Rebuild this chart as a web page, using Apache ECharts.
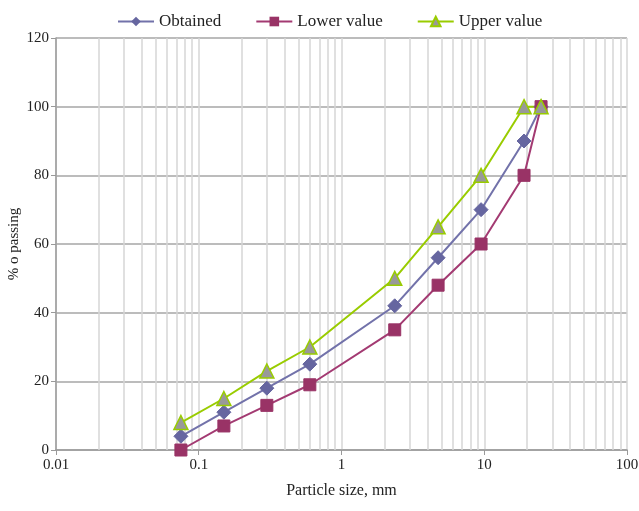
<!DOCTYPE html>
<html>
<head>
<meta charset="utf-8">
<script src="https://cdn.jsdelivr.net/npm/echarts@6/dist/echarts.min.js"></script>
<style>html,body{margin:0;padding:0;background:#fff}#c{width:639px;height:511px}</style>
</head>
<body>
<div id="c"></div>
<script>
var sizes = [0.075, 0.15, 0.3, 0.6, 2.36, 4.75, 9.5, 19, 25];
var obtained = [4, 11, 18, 25, 42, 56, 70, 90, 100];
var lowerValue = [0, 7, 13, 19, 35, 48, 60, 80, 100];
var upperValue = [8, 15, 23, 30, 50, 65, 80, 100, 100];
var xTickLabels = ['0.01', '0.1', '1', '10', '100'];
var yTicks = [0, 20, 40, 60, 80, 100, 120];

function pairs(vals) { return sizes.map(function (s, i) { return [s, vals[i]]; }); }

var minorLines = [];
[0.01, 0.1, 1, 10].forEach(function (d) {
  for (var k = 2; k <= 9; k++) minorLines.push({ xAxis: +(d * k).toPrecision(3) });
});

var font = 'Liberation Serif';
var chart = echarts.init(document.getElementById('c'));
chart.setOption({
  backgroundColor: '#fff',
  animation: false,
  textStyle: { fontFamily: font },
  legend: {
    top: 8,
    left: 112,
    itemWidth: 36,
    itemHeight: 12,
    itemGap: 34,
    textStyle: { fontFamily: font, fontSize: 17, color: '#222' },
    data: ['Obtained', 'Lower value', 'Upper value']
  },
  grid: { left: 56, right: 12, top: 38, bottom: 61, containLabel: false, outerBoundsMode: 'none' },
  xAxis: {
    type: 'log',
    logBase: 10,
    min: 0.01,
    max: 100,
    name: 'Particle size, mm',
    nameLocation: 'middle',
    nameGap: 33,
    nameMoveOverlap: false,
    nameTextStyle: { fontFamily: font, fontSize: 16, color: '#222' },
    axisLine: { lineStyle: { color: '#9a9a9a', width: 1.5 } },
    axisTick: { show: true, inside: false, length: 5, lineStyle: { color: '#9a9a9a' } },
    axisLabel: {
      fontFamily: font, fontSize: 15, color: '#222', margin: 8,
      formatter: function (v) {
        var e = Math.round(Math.log10(v)) + 2;
        return xTickLabels[e] !== undefined ? xTickLabels[e] : '';
      }
    },
    splitLine: { show: true, lineStyle: { color: '#d6d6d6', width: 1.5 } }
  },
  yAxis: {
    type: 'value',
    min: 0,
    max: 120,
    interval: 20,
    name: '% o passing',
    nameLocation: 'middle',
    nameGap: 34,
    nameMoveOverlap: false,
    nameTextStyle: { fontFamily: font, fontSize: 15, color: '#222' },
    axisLine: { show: true, lineStyle: { color: '#9a9a9a', width: 1.5 } },
    axisTick: { show: true, inside: false, length: 5, lineStyle: { color: '#9a9a9a' } },
    axisLabel: {
      fontFamily: font, fontSize: 15, color: '#222', margin: 7,
      formatter: function (v) { return yTicks.indexOf(v) >= 0 ? String(v) : ''; }
    },
    splitLine: { show: true, lineStyle: { color: '#a6a6a6', width: 1.5 } }
  },
  series: [
    {
      name: 'Obtained',
      type: 'line',
      data: pairs(obtained),
      symbol: 'diamond',
      symbolSize: 14,
      z: 4,
      lineStyle: { color: '#7272aa', width: 2 },
      itemStyle: { color: '#6666a0', borderColor: '#6666a0' },
      markLine: {
        silent: true,
        symbol: 'none',
        label: { show: false },
        lineStyle: { color: '#d6d6d6', width: 1.5, type: 'solid' },
        data: minorLines,
        z: 1
      }
    },
    {
      name: 'Lower value',
      type: 'line',
      data: pairs(lowerValue),
      symbol: 'rect',
      symbolSize: 12,
      z: 4,
      lineStyle: { color: '#a33a72', width: 2 },
      itemStyle: { color: '#993366', borderColor: '#993366' }
    },
    {
      name: 'Upper value',
      type: 'line',
      data: pairs(upperValue),
      symbol: 'triangle',
      symbolSize: 14,
      z: 4,
      lineStyle: { color: '#99cc00', width: 2 },
      itemStyle: { color: '#999999', borderColor: '#99cc00', borderWidth: 1.5 }
    }
  ]
});
</script>
</body>
</html>
